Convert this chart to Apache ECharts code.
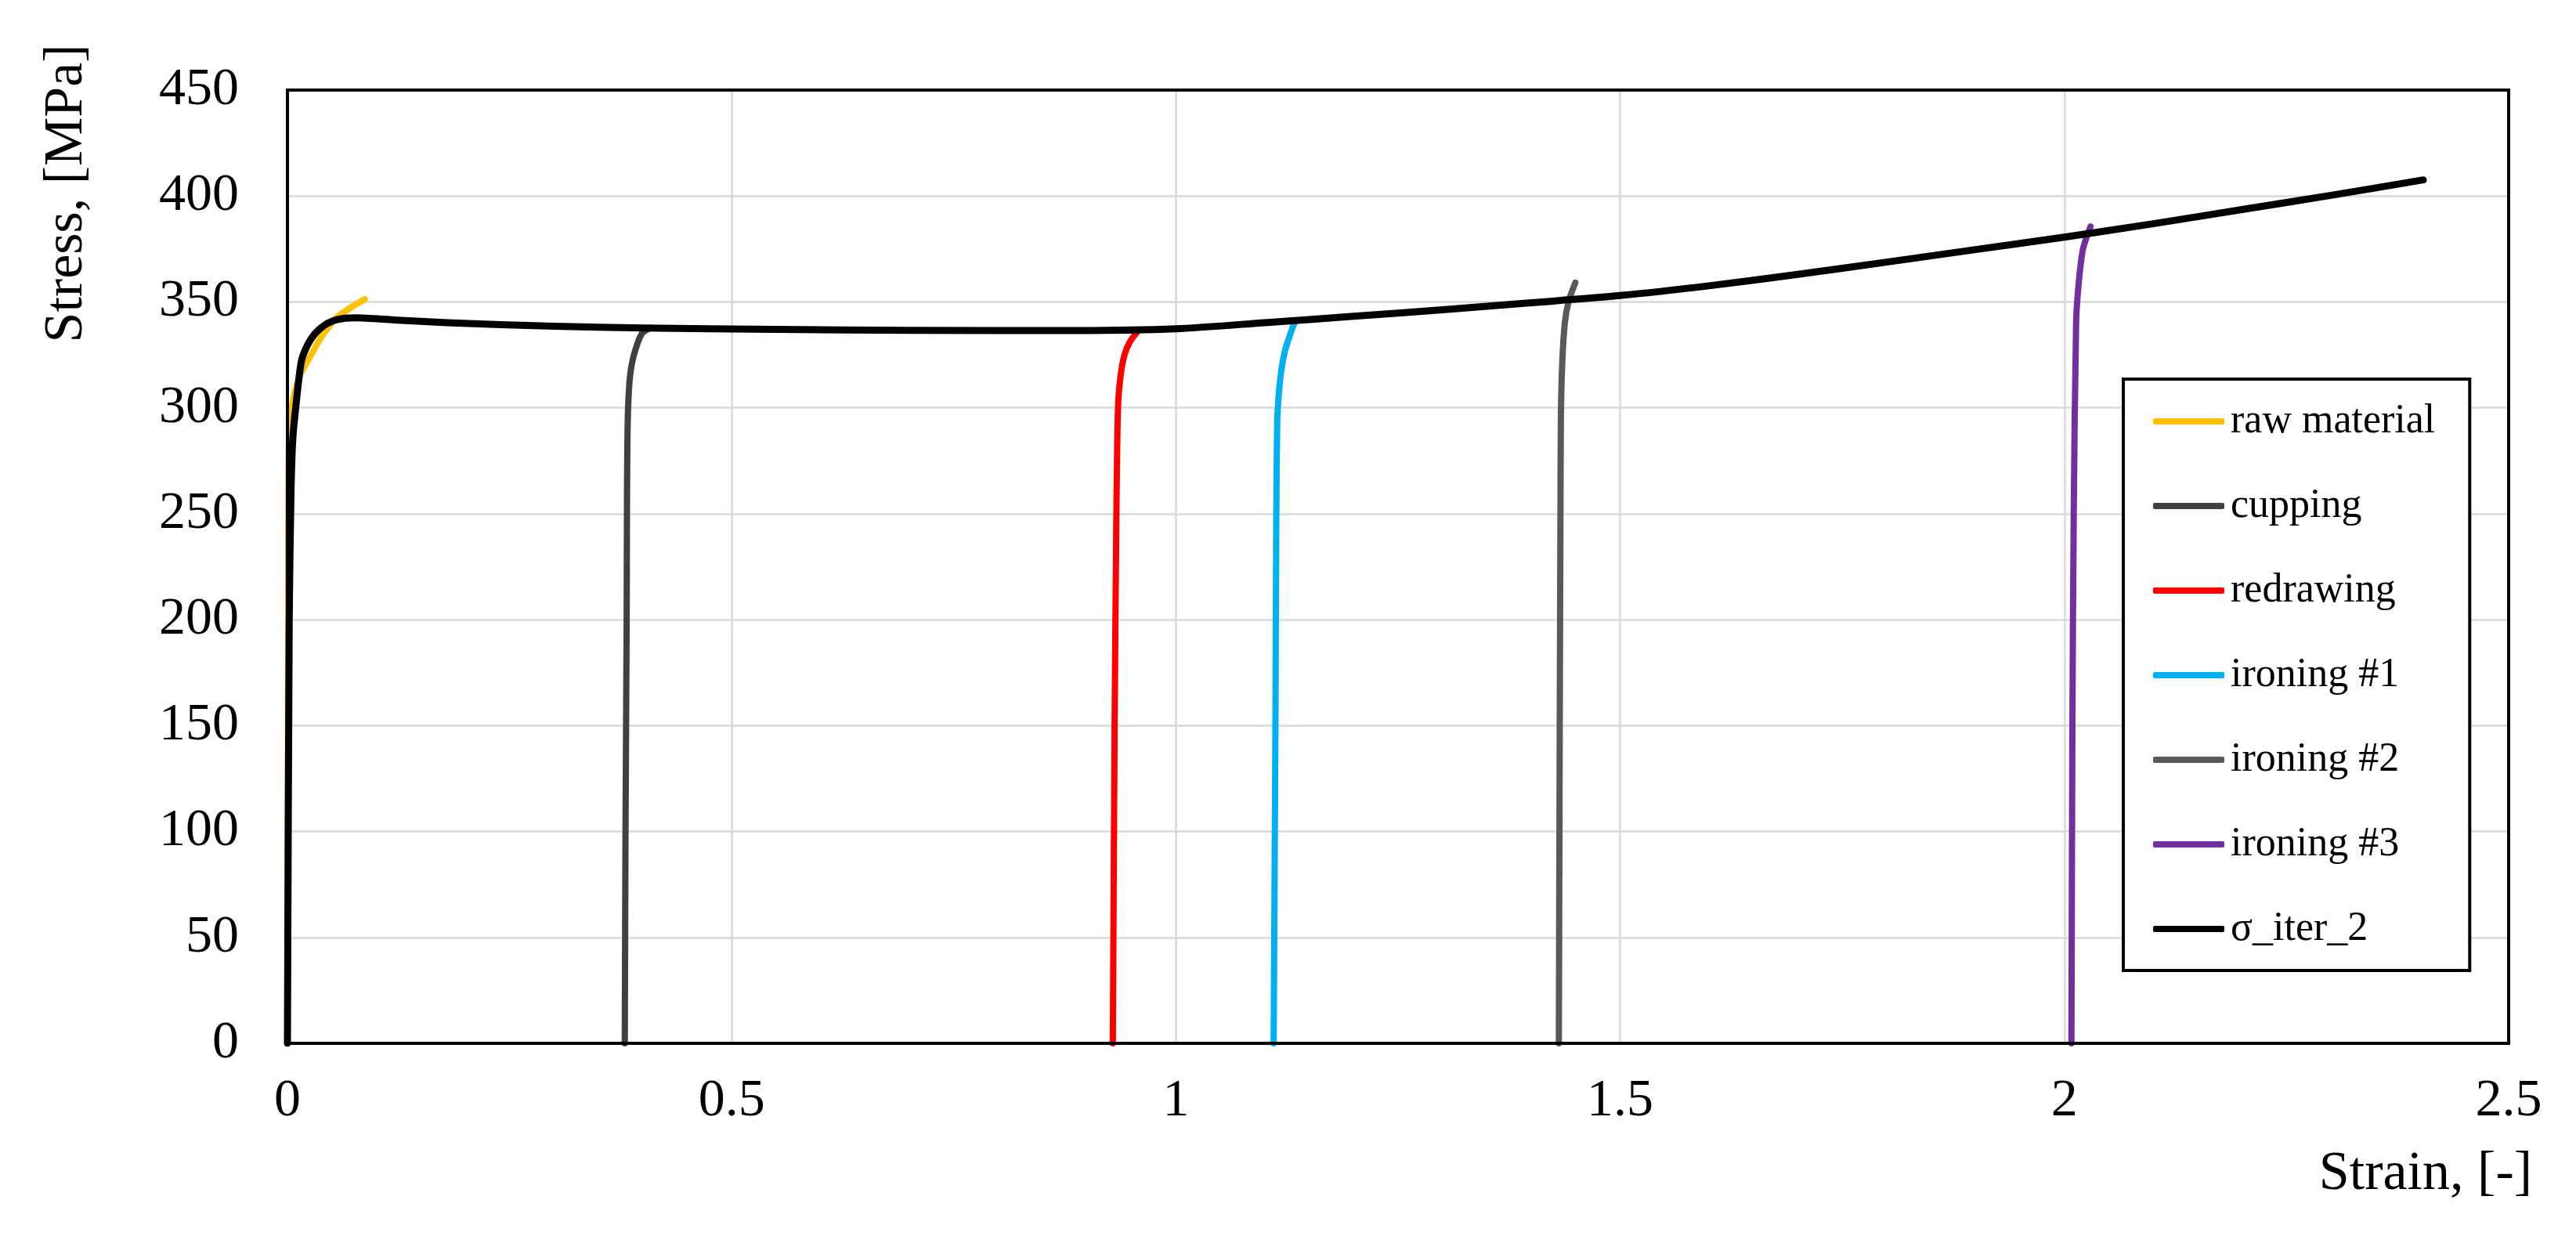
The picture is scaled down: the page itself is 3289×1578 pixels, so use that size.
<!DOCTYPE html>
<html>
<head>
<meta charset="utf-8">
<script src="https://cdn.jsdelivr.net/npm/echarts@6/dist/echarts.min.js"></script>
<style>
html,body{margin:0;padding:0;background:#fff;}
#chart{width:3289px;height:1578px;}
</style>
</head>
<body>
<div id="chart"></div>
<script>
// ---- data (strain [-], stress [MPa]) ----
const seriesNames = ['raw material', 'cupping', 'redrawing', 'ironing #1', 'ironing #2', 'ironing #3', 'σ_iter_2'];
const seriesColors = ['#FFC000', '#404040', '#FF0000', '#00B0F0', '#595959', '#7030A0', '#000000'];

const rawMaterial = [[0,0],[0.0005,120],[0.001,250],[0.0015,280],[0.003,295],[0.006,303],[0.01,310],[0.016,317],[0.024,323],[0.032,329],[0.039,334],[0.048,339],[0.055,342.5],[0.07,347],[0.087,351.3]];
const cupping = [[0.3797,0],[0.3805,100],[0.3818,200],[0.3821,250],[0.3826,283],[0.3835,301],[0.3856,315],[0.39,325],[0.3988,335],[0.409,337.8]];
const redrawing = [[0.929,0],[0.931,150],[0.933,250],[0.9348,300],[0.9377,315],[0.9421,325],[0.948,331],[0.9568,336]];
const ironing1 = [[1.110,0],[1.112,150],[1.113,250],[1.114,293],[1.1155,305],[1.1184,317],[1.1228,327],[1.1316,338.3],[1.133,339.5]];
const ironing2 = [[1.431,0],[1.432,150],[1.4328,250],[1.4333,296],[1.4348,321],[1.4377,340],[1.4421,350.4],[1.4495,359.1]];
const ironing3 = [[2.0079,0],[2.009,150],[2.0105,250],[2.0132,340.6],[2.0162,359.4],[2.0206,374.4],[2.025,380.6],[2.0294,385.6]];
const sigmaIter2 = [[0,0],[0.002,200],[0.004,260],[0.006,285],[0.0098,302],[0.0157,322],[0.023,330],[0.031,335],[0.04,338.5],[0.051,341],[0.065,342.3],[0.077,342.5],[0.12,341.5],[0.18,340.2],[0.3,338.5],[0.4,337.7],[0.55,337],[0.7,336.6],[0.89,336.5],[1.0,337.3],[1.1,340.2],[1.2,343.2],[1.3,346.3],[1.4,349.6],[1.5,353],[1.6,357.6],[1.7,363],[1.8,368.8],[1.9,374.7],[2.0,380.6],[2.1,386.9],[2.2,393.6],[2.3,400.3],[2.404,407.6]];

const xTicks = [0, 0.5, 1, 1.5, 2, 2.5];
const yTicks = [0, 50, 100, 150, 200, 250, 300, 350, 400, 450];

const allData = [rawMaterial, cupping, redrawing, ironing1, ironing2, ironing3, sigmaIter2];

const FONT = '"Liberation Serif", "Times New Roman", serif';

const chart = echarts.init(document.getElementById('chart'), null, {renderer: 'canvas'});

const series = allData.map((d, i) => ({
  name: seriesNames[i],
  type: 'line',
  data: d,
  symbol: 'none',
  smooth: 0.25,
  lineStyle: {color: seriesColors[i], width: i === 6 ? 9 : 8, cap: 'round', join: 'round'},
  itemStyle: {color: seriesColors[i]},
  z: 2 + i,
  animation: false
}));

chart.setOption({
  backgroundColor: '#ffffff',
  animation: false,
  grid: {
    left: 367, right: 86, top: 115, bottom: 246,
    show: false,
    containLabel: false
  },
  xAxis: {
    type: 'value', min: 0, max: 2.5, interval: 0.5,
    axisLine: {show: true, onZero: false, lineStyle: {color: '#000', width: 4}},
    axisTick: {show: false},
    splitLine: {show: true, showMinLine: false, showMaxLine: false, lineStyle: {color: '#D9D9D9', width: 2.5}},
    axisLabel: {
      fontFamily: FONT, fontSize: 68, color: '#000', margin: 40,
      formatter: v => (xTicks.indexOf(v) >= 0 ? String(v) : '')
    }
  },
  yAxis: {
    type: 'value', min: 0, max: 450, interval: 50,
    axisLine: {show: true, lineStyle: {color: '#000', width: 4}},
    axisTick: {show: false},
    splitLine: {show: true, showMinLine: false, showMaxLine: false, lineStyle: {color: '#D9D9D9', width: 2.5}},
    axisLabel: {
      fontFamily: FONT, fontSize: 68, color: '#000', margin: 62,
      formatter: v => (yTicks.indexOf(v) >= 0 ? String(v) : '')
    }
  },
  legend: {
    orient: 'vertical',
    left: 2711, top: 484,
    padding: [28, 44, 27, 38],
    backgroundColor: '#fff',
    borderColor: '#000', borderWidth: 4,
    itemWidth: 91, itemHeight: 8, itemGap: 56,
    icon: 'roundRect',
    textStyle: {fontFamily: FONT, fontSize: 52, lineHeight: 50, color: '#000', padding: [0, 0, 0, 3]},
    data: seriesNames
  },
  graphic: [
    {
      type: 'rect', z: 100, silent: true,
      shape: {x: 367, y: 115, width: 3289 - 86 - 367, height: 1578 - 246 - 115},
      style: {fill: 'none', stroke: '#000', lineWidth: 4}
    },
    {
      type: 'text', x: 86, y: 247, rotation: Math.PI / 2,
      style: {text: 'Stress, [MPa]', font: '70px ' + FONT, fill: '#000', textAlign: 'center', textVerticalAlign: 'middle'}
    },
    {
      type: 'text', x: 3233, y: 1500,
      style: {text: 'Strain, [-]', font: '70px ' + FONT, fill: '#000', textAlign: 'right', textVerticalAlign: 'middle'}
    }
  ],
  series: series
});
</script>
</body>
</html>
